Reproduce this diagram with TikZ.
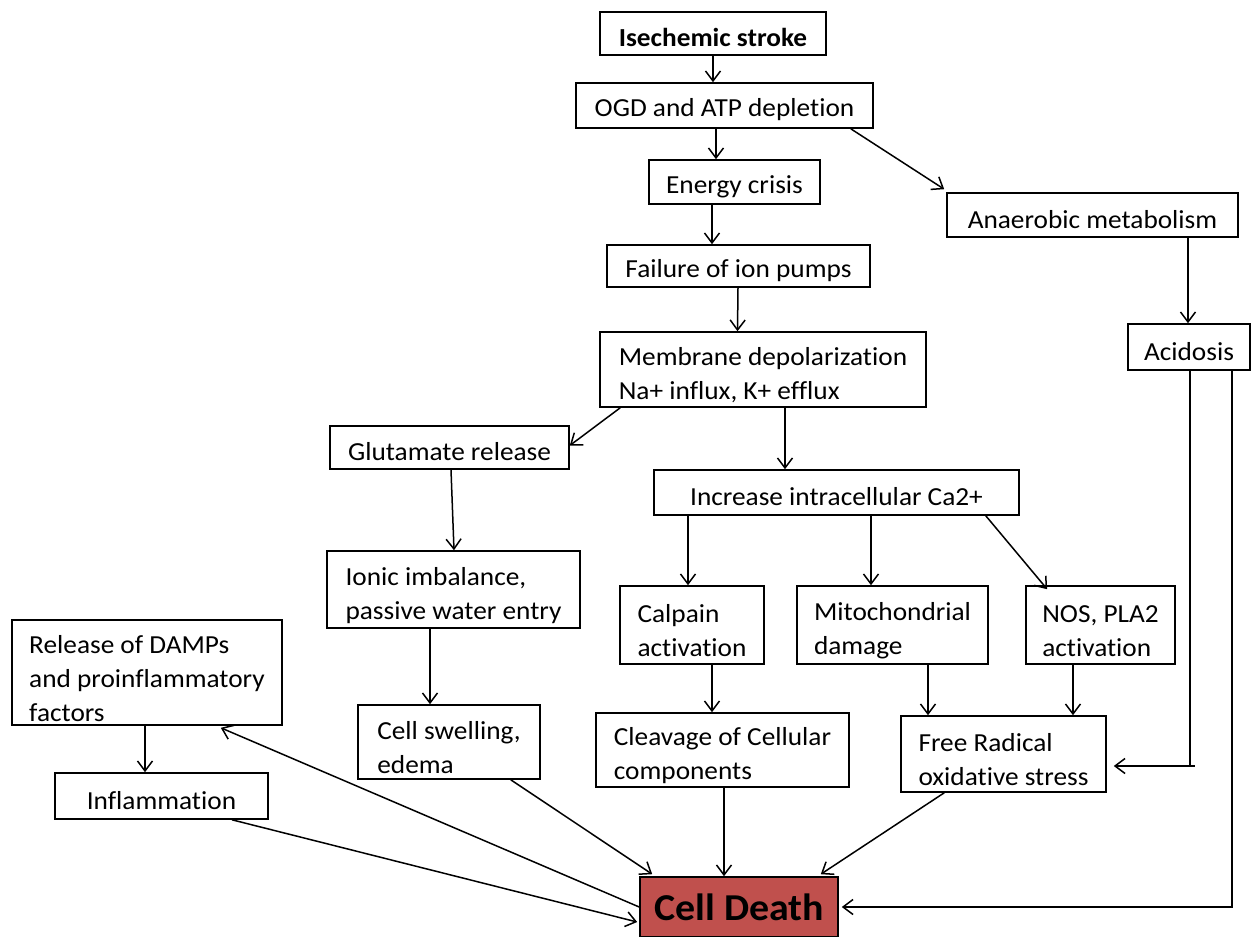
\documentclass[tikz,border=0pt]{standalone}
\usepackage{fontspec}
\setmainfont{Carlito}[FakeStretch=1.05,Ligatures=NoCommon]
\usetikzlibrary{arrows.meta,calc}
\definecolor{deathred}{HTML}{C0504D}
\newcommand\topstrut{\rule{0pt}{30pt}}
\begin{document}
\begin{tikzpicture}[x=1pt,y=-1pt,
  box/.style={draw, line width=1.6pt, fill=white, inner sep=0pt, align=left,
    font=\fontsize{26}{34}\selectfont, execute at begin node={\rule{0pt}{27pt}}},
  conn/.style={line width=1.5pt, -{Straight Barb[length=10pt,width=15pt,line width=1.5pt]}},
  plainline/.style={line width=1.5pt}]
\useasboundingbox (0,0) rectangle (1256,937);

% nodes
\node[box, minimum width=226pt, minimum height=43pt, font=\bfseries\fontsize{26}{34}\selectfont] (stroke) at (713,33.5) {Isechemic stroke};
\node[box, minimum width=297pt, minimum height=45pt] (ogd) at (724.5,105.5) {OGD and ATP depletion};
\node[box, minimum width=171pt, minimum height=44pt] (energy) at (734.5,182) {Energy crisis};
\node[box, minimum width=291pt, minimum height=44pt] (anaer) at (1092.5,215) {Anaerobic metabolism};
\node[box, minimum width=263pt, minimum height=42pt] (failure) at (738.5,266) {Failure of ion pumps};
\node[box, minimum width=326pt, minimum height=75pt] (membrane) at (763,369.5) {\topstrut Membrane depolarization\\Na+ influx, K+ efflux};
\node[box, minimum width=122pt, minimum height=46pt] (acidosis) at (1189,347) {Acidosis};
\node[box, minimum width=239pt, minimum height=43pt] (glutamate) at (449.5,447.5) {Glutamate release};
\node[box, minimum width=365pt, minimum height=45pt] (increase) at (836.5,492.5) {Increase intracellular Ca2+};
\node[box, minimum width=253pt, minimum height=77pt] (ionic) at (453.5,589.5) {\topstrut Ionic imbalance,\\passive water entry};
\node[box, minimum width=144pt, minimum height=78pt] (calpain) at (692,625) {\topstrut Calpain\\activation};
\node[box, minimum width=191pt, minimum height=78pt] (mito) at (892.5,625) {\topstrut Mitochondrial\\damage};
\node[box, minimum width=149pt, minimum height=78pt] (nos) at (1100.5,625) {\topstrut NOS, PLA2\\activation};
\node[box, minimum width=270pt, minimum height=105pt] (damps) at (147,672.5) {\topstrut Release of DAMPs\\and proinflammatory\\factors};
\node[box, minimum width=182pt, minimum height=74pt] (swelling) at (449,742) {\topstrut Cell swelling,\\edema};
\node[box, minimum width=253pt, minimum height=74pt] (cleavage) at (722.5,750) {\topstrut Cleavage of Cellular\\components};
\node[box, minimum width=205pt, minimum height=76pt] (radical) at (1003.5,754) {\topstrut Free Radical\\oxidative stress};
\node[box, minimum width=213pt, minimum height=46pt] (inflam) at (161.5,796) {Inflammation};
\node[box, fill=deathred, minimum width=198pt, minimum height=60pt, font=\bfseries\fontsize{38}{40}\selectfont] (death) at (739,907) {Cell Death};

% connectors
\draw[conn] (stroke.south) -- (stroke.south |- ogd.north);
\draw[conn] ([xshift=-8.5pt]ogd.south) -- ([xshift=-18.5pt]energy.north);
\draw[conn] ([xshift=-23pt]ogd.south east) -- ([xshift=-2pt,yshift=3pt]anaer.north west);
\draw[conn] ([xshift=-22.5pt]energy.south) -- ([xshift=-26.5pt]failure.north);
\draw[conn] ([xshift=-0.5pt]failure.south) -- ([xshift=-25.5pt]membrane.north);
\coordinate (pA) at ([xshift=95.5pt]anaer.south);
\draw[conn] (pA) -- (pA |- acidosis.north);
\draw[conn] ([xshift=21pt]membrane.south west) -- ([yshift=2pt]glutamate.east);
\draw[conn] ([xshift=22pt]membrane.south) -- ([xshift=-51.5pt]increase.north);
\draw[conn] ([xshift=1.5pt]glutamate.south) -- ([xshift=0.5pt]ionic.north);
\draw[conn] ([xshift=-23.5pt]ionic.south) -- ([xshift=-19pt]swelling.north);
\draw[conn] ([xshift=-148.5pt]increase.south) -- ([xshift=-4pt]calpain.north);
\draw[conn] ([xshift=34.5pt]increase.south) -- ([xshift=-21.5pt]mito.north);
\draw[conn] ([xshift=-34pt]increase.south east) -- ([xshift=22pt,yshift=-4pt]nos.north west);
\draw[conn] ([xshift=20pt]calpain.south) -- ([xshift=-10.5pt]cleavage.north);
\draw[conn] ([xshift=35.5pt]mito.south) -- ([xshift=-75.5pt]radical.north);
\draw[conn] ([xshift=-27.5pt]nos.south) -- ([xshift=69.5pt]radical.north);
\coordinate (pB) at ([xshift=1pt]acidosis.south);
\coordinate (qB) at ([xshift=7pt,yshift=-12pt]radical.east);
\draw[plainline] (pB |- qB) -- ++(5,0);
\draw[conn] (pB) -- (pB |- qB) -- (qB);
\coordinate (pC) at ([xshift=43pt]acidosis.south);
\draw[conn] (pC) -- (pC |- death.east) -- ([xshift=3pt]death.east);
\draw[conn] ([xshift=-2pt]damps.south) -- ([xshift=-16.5pt]inflam.north);
\draw[conn] (death.west) -- ([xshift=-62pt,yshift=-2pt]damps.south east);
\draw[conn] ([xshift=70.5pt]inflam.south) -- ([xshift=-2pt,yshift=-15pt]death.west);
\draw[conn] ([xshift=-30pt]swelling.south east) -- ([xshift=13pt,yshift=2pt]death.north west);
\draw[conn] ([xshift=1.5pt]cleavage.south) -- ([xshift=-15pt]death.north);
\draw[conn] ([xshift=44pt]radical.south west) -- ([xshift=-18pt,yshift=2pt]death.north east);
\end{tikzpicture}
\end{document}
